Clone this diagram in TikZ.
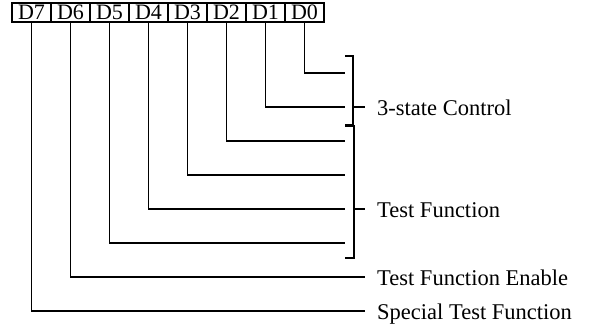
\documentclass[tikz,border=0pt]{standalone}
\usepackage{fontspec}
\setmainfont{Liberation Serif}
\begin{document}
\begin{tikzpicture}[x=1pt,y=-1pt,
  bitbox/.style={draw,line width=1.5pt,minimum width=39pt,minimum height=19pt,inner sep=0pt,font=\fontsize{22}{26}\selectfont},
  wire/.style={line width=1.8pt},
  lbl/.style={anchor=base west,inner sep=0pt,font=\fontsize{22.5}{26}\selectfont}]
\useasboundingbox (0,0) rectangle (598,324);
% register boxes
\foreach \n [count=\i from 0] in {7,6,5,4,3,2,1,0}{
  \node[bitbox] (d\n) at ({31.5+39*\i},12.5) {D\n};
}
% wire end points
\coordinate (e0) at (345,73);
\coordinate (e1) at (345,107);
\coordinate (e2) at (345,141);
\coordinate (e3) at (345,175);
\coordinate (e4) at (345,209);
\coordinate (e5) at (345,243);
\coordinate (e6) at (365,277);
\coordinate (e7) at (365,311);
\foreach \n in {0,...,7}{
  \draw[wire] (d\n.south) |- (e\n);
}
% bracket 1
\coordinate (b1t) at (345,56);
\coordinate (b1b) at (345,125);
\coordinate (b1m) at (365,107);
\draw[wire] (b1t) -- (353,56) -- (353,125) -- (b1b);
\draw[wire] (353,107) -- (b1m);
% bracket 2
\coordinate (b2t) at (345,126);
\coordinate (b2b) at (345,258);
\coordinate (b2m) at (365,209);
\draw[wire] (b2t) -- (354,126) -- (354,258) -- (b2b);
\draw[wire] (354,209) -- (b2m);
% labels
\node[lbl] (l1) at (377,115) {3-state Control};
\node[lbl] (l2) at (377,217) {Test Function};
\node[lbl] (l3) at (377,285) {Test Function Enable};
\node[lbl] (l4) at (377,319) {Special Test Function};
\end{tikzpicture}
\end{document}
